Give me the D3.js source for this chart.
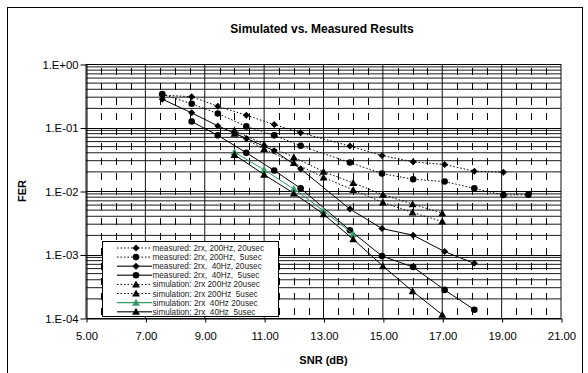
<!DOCTYPE html>
<html>
<head>
<meta charset="utf-8">
<script src="https://cdn.jsdelivr.net/npm/d3@7"></script>
<style>
  html, body { margin: 0; padding: 0; background: #fff; }
  svg text { font-family: "Liberation Sans", Arial, sans-serif; }
</style>
</head>
<body>
<svg id="chart" width="588" height="373"></svg>
<script>
// Tick labels
const xTickValues = [5, 7, 9, 11, 13, 15, 17, 19, 21];
const yTickValues = [1, 0.1, 0.01, 0.001, 0.0001];
const yTickLabels = ["1.E+00", "1.E-01", "1.E-02", "1.E-03", "1.E-04"];

// SNR (dB) sample points
const snrMeasured = [7.57, 8.56, 9.44, 10.40, 11.34, 12.23, 13.89, 14.97, 16.02, 17.08, 18.08, 19.06, 19.90];
const snrSim = [10, 11, 12, 13, 14, 15, 16, 17];

// FER values per series
const ferMeas200Hz20us = [0.325, 0.304, 0.216, 0.156, 0.111, 0.0828, 0.0509, 0.0362, 0.0288, 0.0261, 0.0205, 0.0198];
const ferMeas200Hz5us  = [0.335, 0.236, 0.166, 0.104, 0.0752, 0.0516, 0.0281, 0.0188, 0.0153, 0.0141, 0.0110, 0.00865, 0.00875];
const ferMeas40Hz20us  = [0.279, 0.170, 0.106, 0.0674, 0.0430, 0.0223, 0.00519, 0.00256, 0.00201, 0.00111, 0.000725];
const ferMeas40Hz5us   = [0.124, 0.0752, 0.0400, 0.0210, 0.0110, 0.00241, 0.000946, 0.000634, 0.000277, 0.000135];
const ferSim200Hz20us  = [0.0901, 0.0542, 0.0341, 0.0202, 0.0134, 0.00875, 0.00622, 0.00449];
const ferSim200Hz5us   = [0.0798, 0.0462, 0.0277, 0.0164, 0.0104, 0.00662, 0.00459, 0.00331];
const ferSim40Hz20us   = [0.0409, 0.0215, 0.0108, 0.00489, 0.00209];
const ferSim40Hz5us    = [0.0372, 0.0181, 0.00919, 0.00432, 0.00174, 0.000657, 0.000264, 0.000113];

const seriesNames = [
  "measured: 2rx, 200Hz, 20usec",
  "measured: 2rx, 200Hz,  5usec",
  "measured: 2rx,  40Hz, 20usec",
  "measured: 2rx,  40Hz,  5usec",
  "simulation: 2rx 200Hz 20usec",
  "simulation: 2rx 200Hz  5usec",
  "simulation: 2rx  40Hz 20usec",
  "simulation: 2rx  40Hz  5usec"
];

const series = [
  { name: seriesNames[0], x: snrMeasured.slice(0, 12), y: ferMeas200Hz20us, marker: "diamond", dotted: true,  color: "#000" },
  { name: seriesNames[1], x: snrMeasured,              y: ferMeas200Hz5us,  marker: "circle",  dotted: true,  color: "#000" },
  { name: seriesNames[2], x: snrMeasured.slice(0, 11), y: ferMeas40Hz20us,  marker: "diamond", dotted: false, color: "#000" },
  { name: seriesNames[3], x: snrMeasured.slice(1, 11), y: ferMeas40Hz5us,   marker: "circle",  dotted: false, color: "#000" },
  { name: seriesNames[4], x: snrSim,                   y: ferSim200Hz20us,  marker: "triangle", dotted: true,  color: "#000" },
  { name: seriesNames[5], x: snrSim,                   y: ferSim200Hz5us,   marker: "triangle", dotted: true,  color: "#000" },
  { name: seriesNames[6], x: snrSim.slice(0, 5),       y: ferSim40Hz20us,   marker: "triangle", dotted: false, color: "#339966" },
  { name: seriesNames[7], x: snrSim,                   y: ferSim40Hz5us,    marker: "triangle", dotted: false, color: "#000" }
];

const svg = d3.select("#chart");
const plot = { left: 86, right: 561, top: 64, bottom: 318 };

// outer chart frame
svg.append("rect")
  .attr("x", 7.5).attr("y", 7.5)
  .attr("width", 575).attr("height", 380)
  .attr("fill", "#fff").attr("stroke", "#000").attr("stroke-width", 1);

const x = d3.scaleLinear().domain([5, 21]).range([plot.left, plot.right]);
const y = d3.scaleLog().domain([0.0001, 1]).range([plot.bottom, plot.top]);

const grid = svg.append("g");

// horizontal minor gridlines (2..9 in each decade)
const minorY = [];
for (let e = -4; e < 0; e++) for (let m = 2; m <= 9; m++) minorY.push(m * Math.pow(10, e));
grid.selectAll(".hminor").data(minorY).enter().append("line")
  .attr("x1", plot.left).attr("x2", plot.right)
  .attr("y1", d => y(d)).attr("y2", d => y(d))
  .attr("stroke", "#1a1a1a").attr("stroke-width", 1);

// vertical minor gridlines, dashed, every 0.5 dB
const minorX = d3.range(5.5, 21, 0.5).filter(v => (v - 5) % 2 !== 0);
grid.selectAll(".vminor").data(minorX).enter().append("line")
  .attr("x1", d => Math.round(x(d)) + 0.5).attr("x2", d => Math.round(x(d)) + 0.5)
  .attr("y1", plot.bottom).attr("y2", plot.top)
  .attr("stroke", "#000").attr("stroke-width", 1)
  .attr("stroke-dasharray", "7 8").attr("stroke-dashoffset", 12);

// major gridlines
grid.selectAll(".hmajor").data(yTickValues).enter().append("line")
  .attr("x1", plot.left).attr("x2", plot.right)
  .attr("y1", d => Math.round(y(d)) + 0.5).attr("y2", d => Math.round(y(d)) + 0.5)
  .attr("stroke", "#000").attr("stroke-width", 1);
grid.selectAll(".vmajor").data(xTickValues).enter().append("line")
  .attr("x1", d => x(d)).attr("x2", d => x(d))
  .attr("y1", plot.top).attr("y2", plot.bottom)
  .attr("stroke", "#111").attr("stroke-width", 1);

// axes
const xAxis = d3.axisBottom(x).tickValues(xTickValues).tickSize(4).tickSizeOuter(0)
  .tickFormat(d3.format(".2f"));
const gx = svg.append("g").attr("transform", `translate(0.5,${Math.round(plot.bottom) + 0.5})`).call(xAxis);
gx.select(".domain").attr("stroke", "#000");
gx.selectAll(".tick line").attr("stroke", "#000");
gx.selectAll(".tick text").attr("font-size", 11.3).attr("fill", "#000").attr("dy", "1.25em")
  .style("font-family", '"Liberation Sans", Arial, sans-serif');

const yAxis = d3.axisLeft(y).tickValues(yTickValues).tickSize(6).tickSizeOuter(0)
  .tickFormat((d, i) => yTickLabels[i]);
const gy = svg.append("g").attr("transform", `translate(${Math.round(plot.left) + 0.5},0.5)`).call(yAxis);
gy.select(".domain").attr("stroke", "#000");
gy.selectAll(".tick line").attr("stroke", "#000");
gy.selectAll(".tick text").attr("font-size", 11.3).attr("fill", "#000").attr("x", -8)
  .style("font-family", '"Liberation Sans", Arial, sans-serif');

// titles
svg.append("text").attr("x", 322).attr("y", 33).attr("text-anchor", "middle")
  .attr("font-size", 12).attr("font-weight", "bold").text("Simulated vs. Measured Results");
svg.append("text").attr("x", (plot.left + plot.right) / 2).attr("y", 364).attr("text-anchor", "middle")
  .attr("font-size", 11).attr("font-weight", "bold").text("SNR (dB)");
svg.append("text").attr("transform", `translate(26,${(plot.top + plot.bottom) / 2}) rotate(-90)`)
  .attr("text-anchor", "middle").attr("font-size", 11).attr("font-weight", "bold").text("FER");

// marker shapes
function drawMarker(g, kind, cx, cy, color) {
  if (kind === "circle") {
    g.append("circle").attr("cx", cx).attr("cy", cy).attr("r", 3.3).attr("fill", color);
  } else if (kind === "diamond") {
    const s = 3.5;
    g.append("path").attr("d", `M${cx},${cy - s}L${cx + s},${cy}L${cx},${cy + s}L${cx - s},${cy}Z`).attr("fill", color);
  } else {
    const s = 3.9;
    g.append("path").attr("d", `M${cx},${cy - s}L${cx + s},${cy + s * 0.8}L${cx - s},${cy + s * 0.8}Z`).attr("fill", color);
  }
}

const line = d3.line().x(d => x(d[0])).y(d => y(d[1]));
const dataG = svg.append("g");
series.forEach(s => {
  const pts = s.x.map((v, i) => [v, s.y[i]]);
  dataG.append("path").attr("d", line(pts)).attr("fill", "none")
    .attr("stroke", s.color).attr("stroke-width", 1)
    .attr("stroke-dasharray", s.dotted ? "1.5 2" : null);
  pts.forEach(p => drawMarker(dataG, s.marker, x(p[0]), y(p[1]), s.color));
});

// legend
const lg = svg.append("g");
const box = { x: 102.5, y: 241.5, w: 176, h: 75 };
lg.append("rect").attr("x", box.x).attr("y", box.y).attr("width", box.w).attr("height", box.h)
  .attr("fill", "#fff").attr("stroke", "#000").attr("stroke-width", 1);
series.forEach((s, i) => {
  const ry = 248 + i * 9.1;
  lg.append("line").attr("x1", 117).attr("x2", 152).attr("y1", ry).attr("y2", ry)
    .attr("stroke", s.color === "#000" && !s.dotted ? "#444" : s.color).attr("stroke-width", s.dotted ? 1 : 1.4)
    .attr("stroke-dasharray", s.dotted ? "1.5 2" : null);
  drawMarker(lg, s.marker, 136, ry, s.color);
  lg.append("text").attr("x", 152.5).attr("y", ry + 3).attr("font-size", 8.2)
    .attr("fill", "#222").style("white-space", "pre").text(s.name);
});
</script>
</body>
</html>
